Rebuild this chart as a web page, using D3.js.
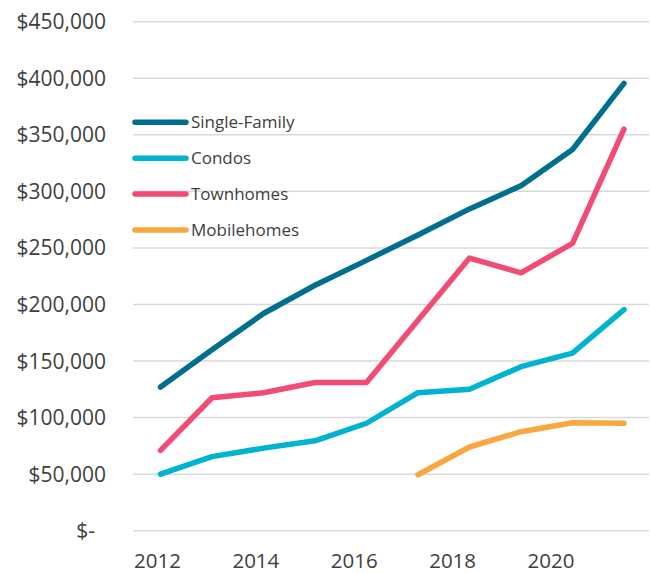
<!DOCTYPE html>
<html>
<head>
<meta charset="utf-8">
<script src="https://cdn.jsdelivr.net/npm/d3@7"></script>
<style>
  html, body { margin: 0; padding: 0; background: #fff; }
  svg { display: block; font-family: "Open Sans", sans-serif; }
</style>
</head>
<body>
<svg id="chart" width="650" height="573"></svg>
<script>
const years = [2012, 2013, 2014, 2015, 2016, 2017, 2018, 2019, 2020, 2021];
const singleFamily = [127000, 160000, 192000, 217000, 239000, 261500, 284500, 305000, 337000, 395500];
const condos = [50000, 65500, 73000, 79500, 95000, 122000, 125000, 145000, 157000, 195500];
const townhomes = [71000, 117500, 122000, 131000, 131000, 186000, 241000, 228000, 254000, 355000];
const mobilehomes = [null, null, null, null, null, 49500, 74000, 87500, 95500, 95000];
const seriesNames = ["Single-Family", "Condos", "Townhomes", "Mobilehomes"];
const seriesColors = ["#006F8E", "#00B3D1", "#F04C74", "#FAA641"];
const yTicks = [0, 50000, 100000, 150000, 200000, 250000, 300000, 350000, 400000, 450000];
const xTickLabels = [2012, 2014, 2016, 2018, 2020];

const seriesValues = [singleFamily, condos, townhomes, mobilehomes];
const svg = d3.select("#chart");

const x = d3.scaleLinear().domain([2012, 2021]).range([160.5, 624]);
const xLabel = d3.scaleLinear().domain([2012, 2020]).range([157.5, 551]);
const y = d3.scaleLinear().domain([0, 450000]).range([530.7, 21.7]);

const gridLeft = 133, gridRight = 649;

// gridlines
svg.append("g").selectAll("line").data(yTicks).join("line")
  .attr("x1", gridLeft).attr("x2", gridRight)
  .attr("y1", d => y(d)).attr("y2", d => y(d))
  .attr("stroke", "#D9D9D9").attr("stroke-width", 1.5);

// y labels
const fmt = d3.format(",");
svg.append("g").selectAll("text").data(yTicks).join("text")
  .attr("x", d => d === 0 ? 95 : 106)
  .attr("y", d => y(d))
  .attr("dy", "0.36em")
  .attr("text-anchor", "end")
  .attr("font-size", 21)
  .attr("fill", "#404040")
  .text(d => d === 0 ? "$-" : "$" + fmt(d));

// x labels
svg.append("g").selectAll("text").data(xTickLabels).join("text")
  .attr("x", d => xLabel(d))
  .attr("y", 568)
  .attr("text-anchor", "middle")
  .attr("font-size", 20.5)
  .attr("fill", "#404040")
  .text(d => d);

// lines
const line = d3.line()
  .defined(d => d.v !== null)
  .x(d => x(d.year))
  .y(d => y(d.v));

seriesValues.forEach((vals, i) => {
  const pts = years.map((yr, j) => ({ year: yr, v: vals[j] }));
  svg.append("path")
    .datum(pts)
    .attr("d", line)
    .attr("fill", "none")
    .attr("stroke", seriesColors[i])
    .attr("stroke-width", 5.5)
    .attr("stroke-linecap", "round")
    .attr("stroke-linejoin", "round");
});

// legend
const legendY = d3.scaleLinear().domain([0, 3]).range([122.3, 230]);
const lg = svg.append("g").selectAll("g").data(seriesNames).join("g")
  .attr("transform", (d, i) => `translate(0,${legendY(i)})`);
lg.append("line")
  .attr("x1", 135).attr("x2", 186)
  .attr("stroke", (d, i) => seriesColors[i])
  .attr("stroke-width", 5.5)
  .attr("stroke-linecap", "round");
lg.append("text")
  .attr("x", 191)
  .attr("dy", "0.36em")
  .attr("font-size", 17)
  .attr("fill", "#404040")
  .text(d => d);
</script>
</body>
</html>
